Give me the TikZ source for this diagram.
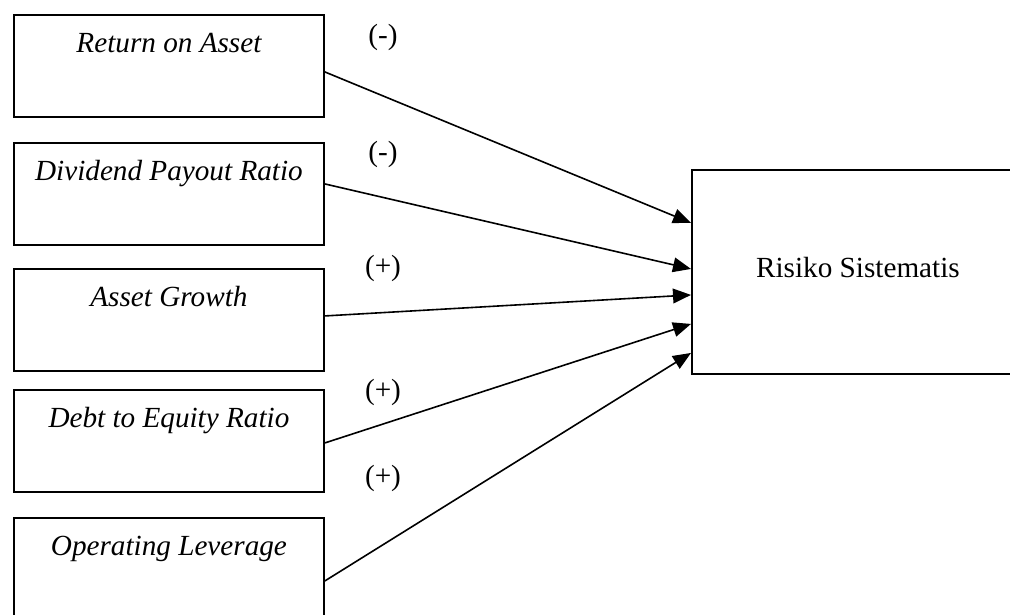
\documentclass[tikz,border=0pt]{standalone}
\usepackage{fontspec}
\setmainfont{Liberation Serif}
\usetikzlibrary{arrows.meta,positioning}

\begin{document}
\begin{tikzpicture}[
  x=0.75pt, y=-0.75pt,
  font=\fontsize{21.9pt}{26pt}\selectfont,
  var/.style={draw, line width=1.4pt, minimum width=232.5pt, inner sep=0pt,
              text height=28.5pt, text depth=48pt,
              font=\fontsize{21.9pt}{26pt}\selectfont\itshape},
  dep/.style={draw, line width=1.4pt, minimum width=249pt, inner sep=0pt,
              text height=81pt, text depth=72pt},
  sign/.style={inner sep=0pt},
  arr/.style={-{Triangle[length=13.5pt, width=11pt]}, line width=1.2pt}
]
\useasboundingbox (0,0) rectangle (1010,614);

% independent variables
\node[var, anchor=north west] (roa) at (13,14)  {Return on Asset};
\node[var, anchor=north west] (dpr) at (13,142) {Dividend Payout Ratio};
\node[var, anchor=north west] (ag)  at (13,268) {Asset Growth};
\node[var, anchor=north west] (der) at (13,389) {Debt to Equity Ratio};
\node[var, anchor=north west] (ol)  at (13,517) {Operating Leverage};

% dependent variable
\node[dep, anchor=north west] (risk) at (691,169) {Risiko Sistematis};

% expected signs
\node[sign] (s1) at (383,37)  {(-)};
\node[sign] (s2) at (383,154) {(-)};
\node[sign] (s3) at (383,268) {(+)};
\node[sign] (s4) at (383,392) {(+)};
\node[sign] (s5) at (383,478) {(+)};

\draw[arr] ([yshift=-4.5pt]roa.east) -- ([yshift=36.75pt]risk.west);
\draw[arr] ([yshift=7.5pt]dpr.east)  -- ([yshift=2.25pt]risk.west);
\draw[arr] ([yshift=3pt]ag.east)     -- ([yshift=-17.25pt]risk.west);
\draw[arr] ([yshift=-1.5pt]der.east) -- ([yshift=-39pt]risk.west);
\draw[arr] ([yshift=-9pt]ol.east)    -- ([yshift=-60.75pt]risk.west);
\end{tikzpicture}
\end{document}
